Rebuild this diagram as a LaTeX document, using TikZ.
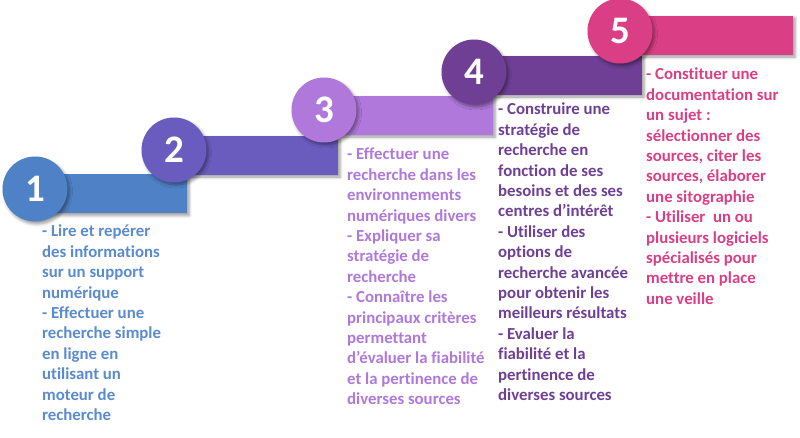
\documentclass[tikz,border=0pt]{standalone}
\usepackage{fontspec}
\setmainfont{Carlito}[Ligatures={NoCommon,NoRare,NoDiscretionary}]
\usetikzlibrary{shadows.blur}
\definecolor{cA}{HTML}{4F81C6}
\definecolor{tA}{HTML}{5A8BD0}
\definecolor{cB}{HTML}{6A5CBE}
\definecolor{cC}{HTML}{AF78DA}
\definecolor{cD}{HTML}{6F3F95}
\definecolor{cE}{HTML}{DA3F86}
\tikzset{
  sh/.style={blur shadow={shadow xshift=2pt,shadow yshift=-2.5pt,shadow blur radius=3pt,shadow opacity=40}},
  bar/.style={rectangle,draw=none,minimum height=39pt,inner sep=0pt,sh},
  num/.style={circle,draw=none,minimum size=65pt,inner sep=0pt,text=white,font=\fontsize{39}{40}\selectfont\bfseries,sh},
  txt/.style={anchor=north west,inner sep=0pt,align=left,font=\fontsize{16.8}{20.4}\selectfont\bfseries}
}
\begin{document}
\begin{tikzpicture}[x=1pt,y=-1pt]
\useasboundingbox (0,0) rectangle (800,437);
% step 1
\node[bar,fill=cA,minimum width=152pt] (b1) at (111,193.5) {};
\node[num,fill=cA] (c1) at (35,189) {1};
% step 2
\node[bar,fill=cB,minimum width=164pt] (b2) at (256,155) {};
\node[num,fill=cB] (c2) at (174,150) {2};
% step 3
\node[bar,fill=cC,minimum width=169pt] (b3) at (408.5,115) {};
\node[num,fill=cC] (c3) at (324,110) {3};
% step 4
\node[bar,fill=cD,minimum width=168pt] (b4) at (558,75) {};
\node[num,fill=cD] (c4) at (474,72) {4};
% step 5
\node[bar,fill=cE,minimum width=173pt] (b5) at (706.5,35) {};
\node[num,fill=cE] (c5) at (620,31) {5};
% texts
\node[txt,text=tA] (t1) at (42,225) {- Lire et repérer\\des informations\\sur un support\\numérique\\- Effectuer une\\recherche simple\\en ligne en\\utilisant un\\moteur de\\recherche};
\node[txt,text=cC] (t3) at (347,148) {- Effectuer une\\recherche dans les\\environnements\\numériques divers\\- Expliquer sa\\stratégie de\\recherche\\- Connaître les\\principaux critères\\permettant\\d’évaluer la fiabilité\\et la pertinence de\\diverses sources};
\node[txt,text=cD] (t4) at (498,103) {- Construire une\\stratégie de\\recherche en\\fonction de ses\\besoins et des ses\\centres d’intérêt\\- Utiliser des\\options de\\recherche avancée\\pour obtenir les\\meilleurs résultats\\- Evaluer la\\fiabilité et la\\pertinence de\\diverses sources};
\node[txt,text=cE] (t5) at (646,68) {- Constituer une\\documentation sur\\un sujet :\\sélectionner des\\sources, citer les\\sources, élaborer\\une sitographie\\- Utiliser\ \ un ou\\plusieurs logiciels\\spécialisés pour\\mettre en place\\une veille};
\end{tikzpicture}
\end{document}
